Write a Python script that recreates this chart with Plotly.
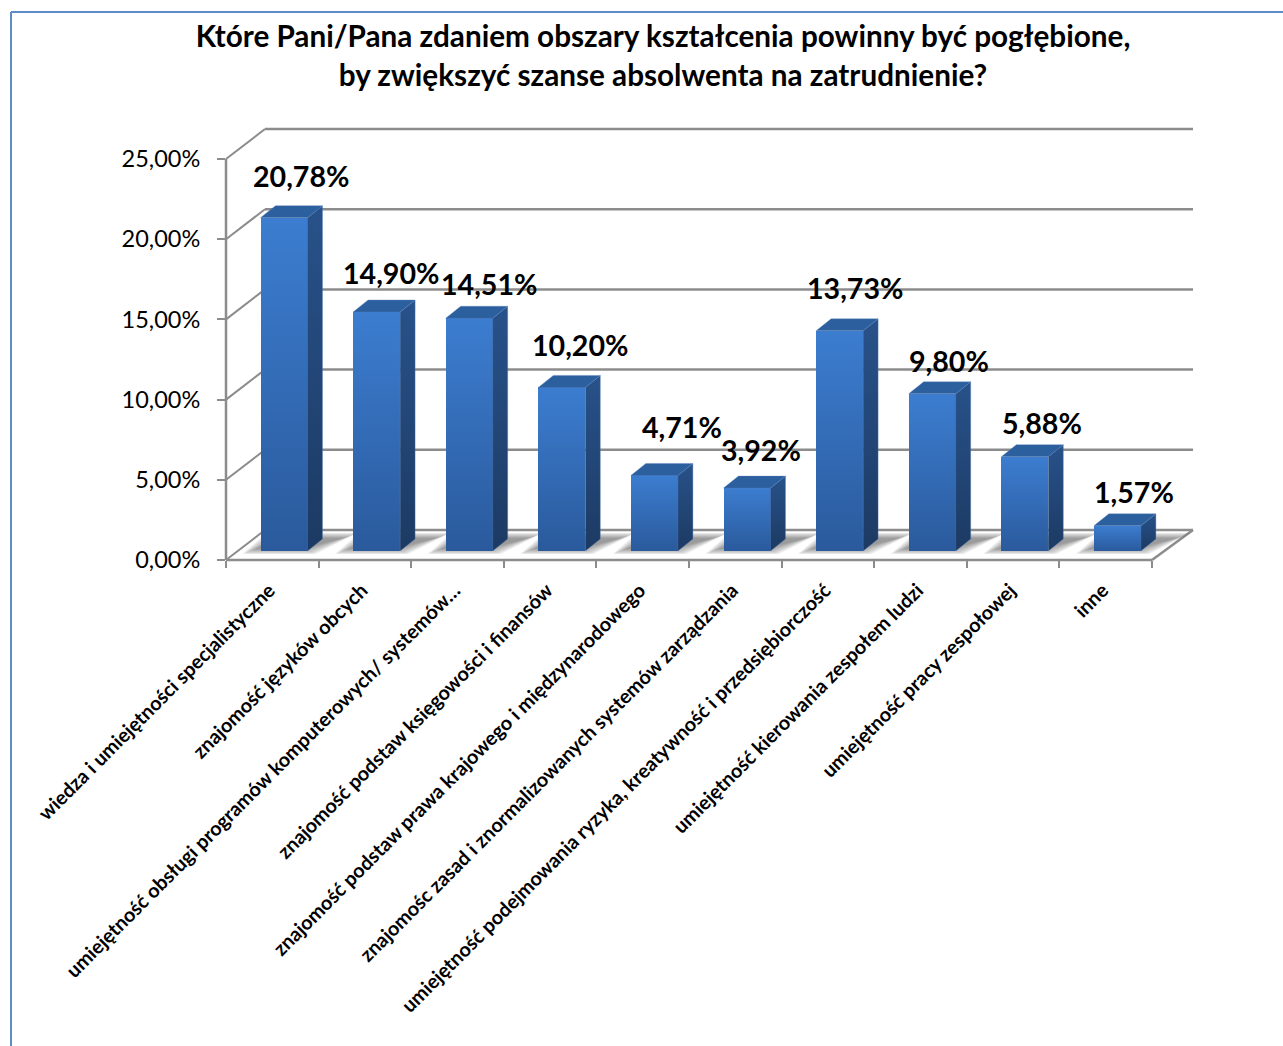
import plotly.graph_objects as go

TITLE = "Które Pani/Pana zdaniem obszary kształcenia powinny być pogłębione,<br>by zwiększyć szanse absolwenta na zatrudnienie?"
categories = [
    "wiedza i umiejętności specjalistyczne",
    "znajomość języków obcych",
    "umiejętność obsługi programów komputerowych/ systemów…",
    "znajomość podstaw księgowości i finansów",
    "znajomość podstaw prawa krajowego i międzynarodowego",
    "znajomośc zasad i znormalizowanych systemów zarządzania",
    "umiejętność podejmowania ryzyka, kreatywność i przedsiębiorczość",
    "umiejętność kierowania zespołem ludzi",
    "umiejętność pracy zespołowej",
    "inne",
]
values = [20.78, 14.90, 14.51, 10.20, 4.71, 3.92, 13.73, 9.80, 5.88, 1.57]
y_ticks = [0, 5, 10, 15, 20, 25]
y_tick_labels = ["0,00%", "5,00%", "10,00%", "15,00%", "20,00%", "25,00%"]

# label nudges in pixels, relative to the front top edge of each bar
label_dx = [17, 14, 20, 18, 28, 14, 15, 17, 17, 17]
label_dy = [42, 39, 34, 42, 48, 38, 43, 33, 34, 34]

W, H = 1283, 1046
L, R, T, B = 226, 1195, 125, 560       # plot area in page pixels
PX_X = 92.6                            # pixels per category
PX_Y = 16.04                           # pixels per percentage point
x_lo = -0.5
x_hi = x_lo + (R - L) / PX_X
y_hi = (B - T) / PX_Y
DX, DY = 39 / PX_X, 30 / PX_Y          # wall depth
DX_R = 41 / PX_X                       # depth at the far right of the floor
BX, BY = 15 / PX_X, 12 / PX_Y          # bar depth
BAR_W = 47 / PX_X
BAR_X = 11.7 / PX_X
BAR_BASE = 9 / PX_Y
LABEL_SHIFT = 3 / PX_X                 # category labels sit slightly left of the category centre
GRID = "#8c8c8c"
TEXT = "#000000"
FONT = "Lato"
n = len(values)

fig = go.Figure()
shapes = []


def xp(x):
    return (x - x_lo) / (x_hi - x_lo)


def yp(y):
    return y / y_hi


def wall_line(x0, y0, x1, y1, width=2.5):
    # paper references keep the line from being clipped at the plot edge
    return dict(type="line", layer="below", xref="paper", yref="paper",
                x0=xp(x0), y0=yp(y0), x1=xp(x1), y1=yp(y1),
                line=dict(color=GRID, width=width))


def poly(pts):
    return "M" + " L".join(f"{a:.4f},{b:.4f}" for a, b in pts) + " Z"


# back wall lines and left wall diagonals
for t in y_ticks:
    shapes.append(wall_line(x_lo + DX, t + DY, x_lo + n + DX_R, t + DY, 2.5))
    shapes.append(wall_line(x_lo, t, x_lo + DX, t + DY, 2))

# soft floor shadow behind every bar
LAYERS = 8
for i in range(n):
    x0 = i + BAR_X - BAR_W / 2
    x1 = x0 + BAR_W
    for k in range(LAYERS):
        g = k * 2.0
        bot = (6 + g * 0.4) / PX_Y
        top = (27 - g * 0.4) / PX_Y
        pts = [(x0 + (g - 18) / PX_X, bot), (x1 + (8 - g) / PX_X, bot),
               (x1 + (50 - g) / PX_X, top), (x0 + (6 + g) / PX_X, top)]
        shapes.append(dict(type="path", layer="below", path=poly(pts),
                           fillcolor="rgba(105,105,105,0.13)", line=dict(width=0)))

# floor edge and left wall
shapes.append(wall_line(x_lo, y_ticks[-1], x_lo, 0, 2.5))
shapes.append(wall_line(x_lo, 0, x_lo + n, 0, 2.5))
shapes.append(wall_line(x_lo + n, 0, x_lo + n + DX_R, DY, 2.5))

# front faces
fig.add_trace(go.Bar(x=[i + BAR_X for i in range(n)], y=values, base=BAR_BASE, width=BAR_W,
                     marker=dict(color="#3068ad", line=dict(width=0)), showlegend=False,
                     customdata=categories, hovertemplate="%{customdata}: %{y:.2f}%<extra></extra>"))

# side and top faces derived from each value
for i, v in enumerate(values):
    x0 = i + BAR_X - BAR_W / 2
    x1 = x0 + BAR_W
    y0, y1 = BAR_BASE, BAR_BASE + v
    fig.add_trace(go.Scatter(
        x=[x1, x1 + BX, x1 + BX, x1, x1], y=[y0, y0 + BY, y1 + BY, y1, y0],
        mode="lines", fill="toself", line=dict(color="rgba(90,130,190,0.35)", width=1),
        fillgradient=dict(type="vertical", colorscale=[[0, "#1c3a63"], [1, "#28528a"]]),
        showlegend=False, hoverinfo="skip"))
    fig.add_trace(go.Scatter(
        x=[x0, x1, x1 + BX, x0 + BX, x0], y=[y1, y1, y1 + BY, y1 + BY, y1],
        mode="lines", fill="toself", line=dict(color="rgba(90,130,190,0.35)", width=1),
        fillcolor="#2c5f9e", showlegend=False, hoverinfo="skip"))

annotations = []
for i, v in enumerate(values):
    annotations.append(dict(
        x=i + BAR_X, y=BAR_BASE + v, xref="x", yref="y", showarrow=False,
        text=f"{v:.2f}%".replace(".", ","), xshift=label_dx[i], yshift=label_dy[i],
        font=dict(family=FONT, size=28.6, color=TEXT, weight="bold")))

# outer frame of the picture
for x0, y0, x1, y1 in [(11, 12, 11, H), (11, 12, W, 12)]:
    shapes.append(dict(type="line", xref="paper", yref="paper",
                       x0=(x0 - L) / (R - L), x1=(x1 - L) / (R - L),
                       y0=(B - y0) / (B - T), y1=(B - y1) / (B - T),
                       line=dict(color="#5f8cc8", width=2)))

fig.update_layout(
    width=W, height=H, margin=dict(l=L, r=W - R, t=T, b=H - B, pad=0),
    paper_bgcolor="white", plot_bgcolor="white",
    title=dict(text=TITLE, x=663 / W, xanchor="center", y=1 - 47 / H, yanchor="top",
               font=dict(family=FONT, size=29.7, color=TEXT, weight="bold")),
    font=dict(family=FONT, color=TEXT),
    bargap=0, shapes=shapes, annotations=annotations, showlegend=False,
    xaxis=dict(range=[x_lo, x_hi], tickmode="array", tickvals=[i - LABEL_SHIFT for i in range(n)], ticktext=categories,
               tickangle=-45, ticks="", showgrid=False, zeroline=False, showline=False,
               ticklabelstandoff=14,
               tickfont=dict(family=FONT, size=19.8, color=TEXT, weight="bold"), automargin=False,
               minor=dict(ticks="outside", tick0=-0.5, dtick=1, ticklen=7, tickwidth=2, tickcolor=GRID, showgrid=False)),
    yaxis=dict(range=[0, y_hi], tickmode="array", tickvals=y_ticks, ticktext=y_tick_labels,
               ticks="outside", ticklen=8, tickwidth=2, tickcolor=GRID, showgrid=False, zeroline=False,
               showline=False, ticklabelstandoff=12,
               tickfont=dict(family=FONT, size=23.5, color=TEXT), automargin=False),
)

post = """
document.body.style.margin = '0';
document.body.style.overflow = 'hidden';
var gd = document.getElementById('{plot_id}');
var svg = gd.querySelector('.main-svg');
var ns = 'http://www.w3.org/2000/svg';
var defs = svg.querySelector('defs');
var lg = document.createElementNS(ns, 'linearGradient');
lg.setAttribute('id', 'barFront');
lg.setAttribute('x1', '0'); lg.setAttribute('y1', '0'); lg.setAttribute('x2', '0'); lg.setAttribute('y2', '1');
[['0', '#3c7dd0'], ['1', '#2a5a9c']].forEach(function (c) {
  var s = document.createElementNS(ns, 'stop');
  s.setAttribute('offset', c[0]); s.setAttribute('stop-color', c[1]); lg.appendChild(s);
});
defs.appendChild(lg);
gd.querySelectorAll('.barlayer .point path').forEach(function (p) { p.style.fill = 'url(#barFront)'; });
"""
fig.write_html("out.html", post_script=post, config=dict(displayModeBar=False))
